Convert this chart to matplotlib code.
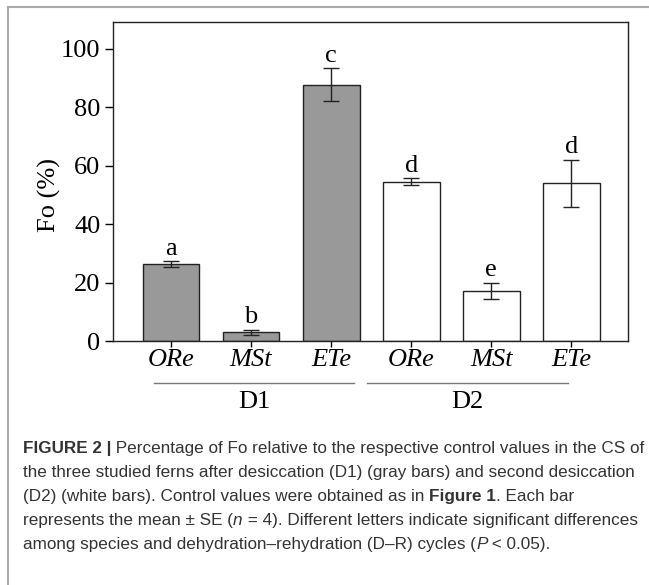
import matplotlib
matplotlib.use("Agg")
import matplotlib.pyplot as plt
from matplotlib.lines import Line2D

species = ["ORe", "MSt", "ETe", "ORe", "MSt", "ETe"]
fo_mean = [26.3, 3.0, 87.7, 54.5, 17.1, 54.0]
fo_se = [0.9, 0.9, 5.6, 1.2, 2.8, 8.0]
letters = ["a", "b", "c", "d", "e", "d"]
groups = ["D1", "D2"]
bar_colors = ["#999999"] * 3 + ["white"] * 3

serif = "Liberation Serif"
fs = 19
fig = plt.figure(figsize=(6.49, 5.85), dpi=100)
ax = fig.add_axes([0.174, 0.417, 0.794, 0.545])

xpos = list(range(len(species)))
ax.bar(xpos, fo_mean, width=0.71, color=bar_colors, edgecolor="#222222", linewidth=1.0, zorder=2)
ax.errorbar(xpos, fo_mean, yerr=fo_se, fmt="none", ecolor="#222222", elinewidth=1.0,
            capsize=5.5, capthick=1.0, zorder=3)
for x, m, s, l in zip(xpos, fo_mean, fo_se, letters):
    ax.annotate(l, (x, m + s), xytext=(0, 1), textcoords="offset points",
                ha="center", va="bottom", fontsize=fs, family=serif)

ax.set_xlim(-0.725, 5.71)
ax.set_ylim(0, 109)
ax.set_yticks([0, 20, 40, 60, 80, 100])
ax.set_xticks(xpos)
ax.set_xticklabels(species, fontsize=fs, family=serif, style="italic")
for t in ax.get_yticklabels():
    t.set_family(serif)
    t.set_fontsize(fs)
ax.tick_params(axis="y", length=6, width=1, direction="out", pad=3)
ax.tick_params(axis="x", length=4, width=1, direction="out", pad=2)
ax.set_ylabel("Fo (%)", fontsize=fs, family=serif, va="center")
ax.yaxis.set_label_coords(-0.124, 0.458)
for sp in ax.spines.values():
    sp.set_color("#222222")
    sp.set_linewidth(1.0)

# group lines and labels under the tick labels
trans = ax.get_xaxis_transform()
group_spans = [(-0.21, 2.28), (2.45, 4.96)]
for (x0, x1), g in zip(group_spans, groups):
    ax.add_line(Line2D([x0, x1], [-0.13, -0.13], transform=trans, color="#777777",
                       linewidth=1.0, clip_on=False))
    ax.text((x0 + x1) / 2, -0.19, g, transform=trans, ha="center", va="center",
            fontsize=fs, family=serif)

# frame of the figure panel
fig.add_artist(Line2D([8 / 649, 1.0], [1 - 7 / 585, 1 - 7 / 585], color="#aaaaaa", linewidth=1.5))
fig.add_artist(Line2D([8 / 649, 8 / 649], [0, 1 - 7 / 585], color="#aaaaaa", linewidth=1.5))

# caption
cap_font = "Liberation Sans"
cap_size = 12.3
cap_color = "#333333"
caption = [
    [("FIGURE 2 |", "bold", "normal"),
     (" Percentage of Fo relative to the respective control values in the CS of", "normal", "normal")],
    [("the three studied ferns after desiccation (D1) (gray bars) and second desiccation", "normal", "normal")],
    [("(D2) (white bars). Control values were obtained as in ", "normal", "normal"),
     ("Figure 1", "bold", "normal"), (". Each bar", "normal", "normal")],
    [("represents the mean \u00b1 SE (", "normal", "normal"), ("n", "normal", "italic"),
     (" = 4). Different letters indicate significant differences", "normal", "normal")],
    [("among species and dehydration\u2013rehydration (D\u2013R) cycles (", "normal", "normal"),
     ("P", "normal", "italic"), (" < 0.05).", "normal", "normal")],
]
baselines = [453, 477, 501, 525, 549]
fig.canvas.draw()
renderer = fig.canvas.get_renderer()
for runs, yb in zip(caption, baselines):
    x = 23
    for txt, w, st in runs:
        t = fig.text(x / 649, 1 - yb / 585, txt, fontsize=cap_size, family=cap_font,
                     weight=w, style=st, color=cap_color, ha="left", va="baseline")
        bb = t.get_window_extent(renderer=renderer)
        x += bb.width

fig.savefig("out.png", dpi=100)
